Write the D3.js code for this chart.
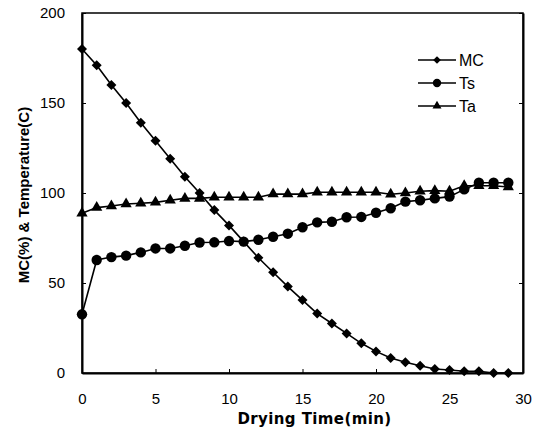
<!DOCTYPE html>
<html>
<head>
<meta charset="utf-8">
<script src="https://cdn.jsdelivr.net/npm/d3@7"></script>
<style>
  body { margin: 0; background: #fff; }
  svg { display: block; font-family: "Liberation Sans", Arial, sans-serif; }
</style>
</head>
<body>
<div id="chart"></div>
<script>
var times = d3.range(0, 30);
var mcValues = [180, 171, 160, 150, 139, 129, 119, 109, 100, 90.5, 82, 73, 64, 56, 48, 40.5, 33, 27.5, 22, 16.5, 12, 8.3, 6, 4, 2.2, 1.7, 1, 1, 0, 0];
var tsValues = [32.6, 62.8, 64.4, 65.2, 67, 69.2, 69.2, 70.7, 72.5, 72.6, 73.3, 73, 74, 75.7, 77.4, 81, 83.7, 84, 86.5, 86.7, 89, 91.5, 95.2, 96, 97, 98, 102, 105.7, 105.7, 105.7];
var taValues = [88.7, 91.9, 92.8, 93.9, 94.3, 94.8, 96, 97, 97, 97.6, 97.6, 97.6, 97.6, 99.4, 99.4, 99.4, 100.4, 100.4, 100.4, 100.4, 100.4, 99.3, 100, 101, 101.3, 101, 104, 104, 104, 103.3];
var xTicks = [0, 5, 10, 15, 20, 25, 30];
var yTicks = [0, 50, 100, 150, 200];

// diamond drawn as a square turned 45 degrees
var series = [
  { name: "MC", values: mcValues, symbol: d3.symbolSquare, rotate: 45, size: 50, legendSize: 30 },
  { name: "Ts", values: tsValues, symbol: d3.symbolCircle, rotate: 0, size: 85, legendSize: 55 },
  { name: "Ta", values: taValues, symbol: d3.symbolTriangle, rotate: 0, size: 55, legendSize: 35 }
];

var width = 538, height = 432;
var margin = { top: 13, right: 15, bottom: 59, left: 82 };

var svg = d3.select("#chart").append("svg")
  .attr("width", width)
  .attr("height", height);

var x = d3.scaleLinear().domain([0, 30]).range([margin.left, width - margin.right]);
var y = d3.scaleLinear().domain([0, 200]).range([height - margin.bottom, margin.top]);

// frame
svg.append("rect")
  .attr("x", x(0)).attr("y", y(200))
  .attr("width", x(30) - x(0)).attr("height", y(0) - y(200))
  .attr("fill", "none").attr("stroke", "#000").attr("stroke-width", 1.5);

// axes with inward ticks
svg.append("g")
  .attr("transform", "translate(0," + y(0) + ")")
  .call(d3.axisBottom(x).tickValues(xTicks).tickSizeInner(-4).tickSizeOuter(0).tickPadding(20));
svg.append("g")
  .attr("transform", "translate(" + x(0) + ",0)")
  .call(d3.axisLeft(y).tickValues(yTicks).tickSizeInner(-4).tickSizeOuter(0).tickPadding(17));
svg.append("g")
  .attr("transform", "translate(" + x(30) + ",0)")
  .call(d3.axisRight(y).tickValues(yTicks).tickSizeInner(-4).tickSizeOuter(0).tickFormat(""));

svg.selectAll(".domain").attr("stroke-width", 2);
svg.selectAll(".tick line").attr("stroke-width", 1);
svg.selectAll(".tick text").attr("font-size", 15).attr("fill", "#000")
  .attr("font-family", "'Liberation Sans', Arial, sans-serif");

// axis titles
svg.append("text")
  .attr("x", (x(0) + x(30)) / 2 + 12)
  .attr("y", 424)
  .attr("text-anchor", "middle")
  .attr("font-family", "'DejaVu Sans', sans-serif")
  .attr("font-size", 15).attr("font-weight", "bold")
  .attr("letter-spacing", 0.4)
  .text("Drying Time(min)");

svg.append("text")
  .attr("transform", "translate(29," + (y(100) + 2) + ") rotate(-90)")
  .attr("text-anchor", "middle")
  .attr("font-size", 15).attr("font-weight", "bold")
  .text("MC(%) & Temperature(C)");

// lines and markers
var line = d3.line()
  .x(function(d, i) { return x(times[i]); })
  .y(function(d) { return y(d); });

series.forEach(function(s) {
  svg.append("path")
    .datum(s.values)
    .attr("d", line)
    .attr("fill", "none")
    .attr("stroke", "#000")
    .attr("stroke-width", 1.6);

  svg.append("g").selectAll("path")
    .data(s.values)
    .enter().append("path")
      .attr("d", d3.symbol().type(s.symbol).size(s.size))
      .attr("transform", function(d, i) {
        return "translate(" + x(times[i]) + "," + y(d) + ") rotate(" + s.rotate + ")";
      })
      .attr("fill", "#000");
});

// legend
var legendRows = [60, 83, 106];
var legend = svg.append("g").attr("transform", "translate(418,0)");
var item = legend.selectAll("g")
  .data(series)
  .enter().append("g")
    .attr("transform", function(d, i) { return "translate(0," + legendRows[i] + ")"; });
item.append("line")
  .attr("x1", 0).attr("x2", 38)
  .attr("stroke", "#000").attr("stroke-width", 1.5);
item.append("path")
  .attr("d", function(d) { return d3.symbol().type(d.symbol).size(d.legendSize)(); })
  .attr("transform", function(d) { return "translate(19,0) rotate(" + d.rotate + ")"; })
  .attr("fill", "#000");
item.append("text")
  .attr("x", 41)
  .attr("dy", "0.36em")
  .attr("font-size", 16)
  .text(function(d) { return d.name; });
</script>
</body>
</html>
